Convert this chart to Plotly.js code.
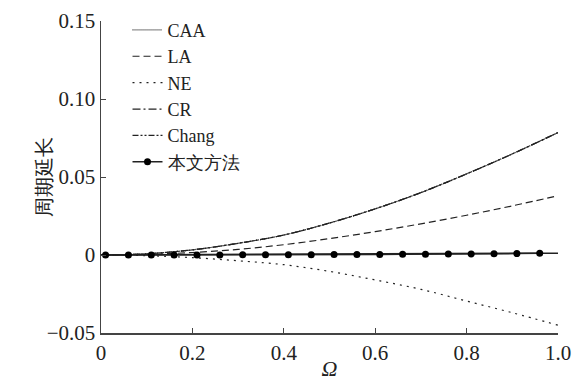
<!DOCTYPE html>
<html><head><meta charset="utf-8">
<script src="https://cdn.plot.ly/plotly-3.0.1.min.js"></script>
<style>
html,body{margin:0;padding:0;background:#fff}
#chart{width:579px;height:381px}
</style>
</head><body><div id="chart"></div>
<script>
var omega = [0, 0.1, 0.2, 0.3, 0.4, 0.5, 0.6, 0.7, 0.8, 0.9, 1.0];
var caa   = [0, 0.0008, 0.0033, 0.0075, 0.0128, 0.0205, 0.0296, 0.0400, 0.0520, 0.0648, 0.0785];
var cr    = [0, 0.0008, 0.0033, 0.0075, 0.0128, 0.0205, 0.0296, 0.0400, 0.0520, 0.0648, 0.0785];
var chang = [0, 0.0008, 0.0033, 0.0075, 0.0128, 0.0205, 0.0296, 0.0400, 0.0520, 0.0648, 0.0785];
var la    = [0, 0.0004, 0.0016, 0.0036, 0.0066, 0.0105, 0.0150, 0.0200, 0.0255, 0.0315, 0.0380];
var ne    = [0, -0.0004, -0.0017, -0.0037, -0.0062, -0.0105, -0.0160, -0.0220, -0.0295, -0.0370, -0.0450];
var omegaM = [0.01, 0.06, 0.11, 0.16, 0.21, 0.26, 0.31, 0.36, 0.41, 0.46, 0.51, 0.56, 0.61, 0.66, 0.71, 0.76, 0.81, 0.86, 0.91, 0.96];
var method = [0, 0, 0, 0, 0, 0, 0.0001, 0.0001, 0.0002, 0.0002, 0.0003, 0.0003, 0.0004, 0.0005, 0.0005, 0.0006, 0.0007, 0.0008, 0.0009, 0.0011];
var methodLineX = [0, 1.0];
var methodLineY = [0, 0.0012];
var names = ['CAA', 'LA', 'NE', 'CR', 'Chang', '本文方法'];
var yTickVals = [-0.05, 0, 0.05, 0.10, 0.15];
var yTickText = ['\u22120.05', '0', '0.05', '0.10', '0.15'];
var xTickVals = [0, 0.2, 0.4, 0.6, 0.8, 1.0];
var xTickText = ['0', '0.2', '0.4', '0.6', '0.8', '1.0'];

var FONT = 'Liberation Serif';
function ln(x, y, name, dash) {
  return {x: x, y: y, name: name, type: 'scatter', mode: 'lines', line: {color: '#222222', width: 1.2, dash: dash, shape: 'spline'}};
}
var traces = [
  ln(omega, caa, names[0], '1px,1px'),
  ln(omega, la, names[1], '7px,4px'),
  ln(omega, ne, names[2], '2px,5px'),
  ln(omega, cr, names[3], '8px,3px,2px,3px'),
  ln(omega, chang, names[4], '6px,2px,2px,2px,2px,2px'),
  {x: methodLineX, y: methodLineY, type: 'scatter', mode: 'lines', line: {color: '#222222', width: 1.5}, showlegend: false, hoverinfo: 'skip'},
  {x: omegaM, y: method, name: names[5], type: 'scatter', mode: 'lines+markers', line: {color: '#222222', width: 1.5}, marker: {color: '#000000', size: 7}}
];
var layout = {
  width: 579, height: 381,
  margin: {l: 101, r: 21, t: 16, b: 48},
  showlegend: true,
  font: {family: FONT, size: 21, color: '#222222'},
  legend: {x: 0.058, xanchor: 'left', y: 1.03, yanchor: 'top', bgcolor: 'rgba(0,0,0,0)', font: {family: FONT, size: 18}, tracegroupgap: 0},
  xaxis: {range: [0, 1], tickvals: xTickVals, ticktext: xTickText, ticks: 'inside', ticklen: 5, tickcolor: '#444', showline: true, linecolor: '#444', linewidth: 1.5, showgrid: false, zeroline: false,
    title: {text: '<i>Ω</i>', font: {family: FONT, size: 22}}, tickfont: {family: FONT, size: 21}},
  yaxis: {range: [-0.05, 0.15], tickvals: yTickVals, ticktext: yTickText, ticks: 'inside', ticklen: 5, tickcolor: '#444', showline: true, linecolor: '#444', linewidth: 1.5, showgrid: false, zeroline: false,
    title: {text: '周期延长', font: {family: FONT, size: 20}}, tickfont: {family: FONT, size: 21}}
};
Plotly.newPlot('chart', traces, layout, {displayModeBar: false, staticPlot: true});
</script></body></html>
